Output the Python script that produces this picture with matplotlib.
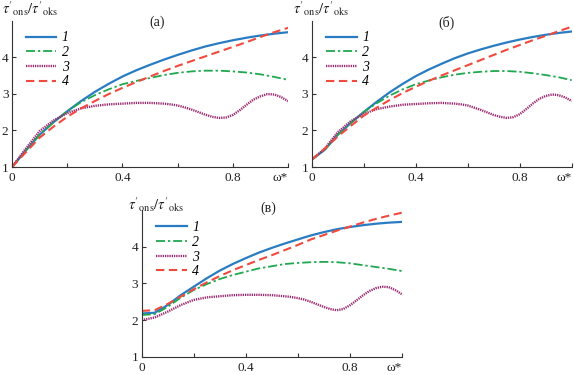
import matplotlib
matplotlib.use("Agg")
import matplotlib.pyplot as plt

plt.rcParams['font.family'] = ['Liberation Serif', 'DejaVu Serif']
plt.rcParams['mathtext.fontset'] = 'stix'

omega = [0.0, 0.05, 0.1, 0.15, 0.2, 0.25, 0.3, 0.35, 0.4, 0.45, 0.5,
         0.55, 0.6, 0.65, 0.7, 0.75, 0.8, 0.85, 0.9, 0.95, 1.0]
# denser sampling for the wavy curve 3
omega3 = [0.0, 0.05, 0.1, 0.15, 0.2, 0.25, 0.3, 0.35, 0.4, 0.45, 0.5,
          0.55, 0.575, 0.6, 0.625, 0.65, 0.675, 0.7, 0.725, 0.75, 0.775,
          0.8, 0.825, 0.85, 0.875, 0.9, 0.925, 0.95, 0.975, 1.0]

# panel (а)
a1 = [1.0, 1.45, 1.88, 2.22, 2.52, 2.8, 3.05, 3.27, 3.47, 3.64, 3.79, 3.93, 4.06, 4.18, 4.29, 4.38, 4.46, 4.53, 4.59, 4.64, 4.68]
a2 = [1.0, 1.45, 1.88, 2.22, 2.52, 2.77, 2.96, 3.12, 3.26, 3.35, 3.43, 3.51, 3.57, 3.61, 3.63, 3.63, 3.61, 3.58, 3.53, 3.46, 3.38]
a3 = [1.0, 1.5, 1.98, 2.27, 2.47, 2.6, 2.67, 2.71, 2.73, 2.75, 2.75,
      2.73, 2.71, 2.68, 2.63, 2.57, 2.5, 2.43, 2.37, 2.34, 2.35,
      2.42, 2.55, 2.7, 2.84, 2.93, 2.99, 2.98, 2.91, 2.8]
a4 = [1.0, 1.4, 1.8, 2.1, 2.37, 2.6, 2.8, 2.99, 3.16, 3.32, 3.47, 3.62, 3.76, 3.89, 4.02, 4.15, 4.28, 4.41, 4.55, 4.68, 4.8]

# panel (б)
b1 = [1.2, 1.47, 1.88, 2.2, 2.5, 2.78, 3.04, 3.27, 3.48, 3.66, 3.82, 3.97, 4.1, 4.21, 4.31, 4.4, 4.48, 4.55, 4.61, 4.66, 4.7]
b2 = [1.2, 1.47, 1.88, 2.2, 2.5, 2.74, 2.95, 3.12, 3.26, 3.36, 3.45, 3.52, 3.57, 3.6, 3.62, 3.62, 3.6, 3.56, 3.51, 3.45, 3.37]
b3 = [1.2, 1.5, 1.95, 2.25, 2.45, 2.58, 2.65, 2.7, 2.72, 2.74, 2.75,
      2.73, 2.71, 2.68, 2.62, 2.56, 2.49, 2.42, 2.37, 2.34, 2.36,
      2.44, 2.58, 2.73, 2.86, 2.94, 2.98, 2.96, 2.9, 2.8]
b4 = [1.2, 1.5, 1.83, 2.12, 2.4, 2.62, 2.83, 3.02, 3.19, 3.35, 3.5, 3.64, 3.78, 3.92, 4.06, 4.2, 4.33, 4.46, 4.58, 4.71, 4.83]

# panel (в)
c1 = [2.18, 2.2, 2.41, 2.68, 2.91, 3.14, 3.35, 3.53, 3.69, 3.84, 3.97, 4.09, 4.2, 4.31, 4.4, 4.48, 4.54, 4.59, 4.63, 4.66, 4.68]
c2 = [2.14, 2.16, 2.36, 2.61, 2.82, 2.98, 3.12, 3.23, 3.32, 3.41, 3.47, 3.53, 3.56, 3.58, 3.59, 3.58, 3.55, 3.5, 3.45, 3.4, 3.34]
c3 = [2.0, 2.07, 2.23, 2.41, 2.55, 2.62, 2.65, 2.68, 2.69, 2.69, 2.68,
      2.65, 2.63, 2.6, 2.56, 2.5, 2.43, 2.36, 2.3, 2.27, 2.3,
      2.4, 2.53, 2.67, 2.79, 2.87, 2.91, 2.9, 2.82, 2.71]
c4 = [2.25, 2.27, 2.44, 2.64, 2.84, 3.03, 3.2, 3.36, 3.5, 3.64, 3.77, 3.91, 4.05, 4.2, 4.32, 4.44, 4.55, 4.66, 4.76, 4.85, 4.93]

series_labels = ['1', '2', '3', '4']
panel_labels = ['(а)', '(б)', '(в)']
xtick_vals = [0.0, 0.2, 0.4, 0.6, 0.8, 1.0]
xtick_labels = ['0', '', '0.4', '', '0.8', 'ω*']
ytick_vals = [1, 2, 3, 4]
ylabel = r"$\tau'_{\rm ons}/\tau'_{\rm oks}$"

colors = ['#2a7cc2', '#1fa84f', '#9c2a70', '#f04a3e']
styles = ['-', (0, (5, 1.6, 1.3, 1.6)), (0, (0.55, 0.4)), (0, (4, 2.2))]
widths = [1.6, 1.3, 1.7, 1.5]

fig = plt.figure(figsize=(5.74, 3.75), dpi=100)

W, H = 574.0, 375.0
specs = [
    (a1, a2, a3, a4, [12 / W, 208 / H, 276 / W, 146.5 / H], 0.05, 0.525, 0.985, (1.7 / W, 366 / H)),
    (b1, b2, b3, b4, [311.7 / W, 208 / H, 260 / W, 146.5 / H], 0.055, 0.52, 0.985, (293 / W, 366 / H)),
    (c1, c2, c3, c4, [141.7 / W, 18.3 / H, 260 / W, 146.5 / H], 0.055, 0.486, 1.01, (128.3 / W, 170 / H)),
]

for i, (s1, s2, s3, s4, rect, legx, labx, laby, ylpos) in enumerate(specs):
    ax = fig.add_axes(rect)
    xs_list = [omega, omega, omega3, omega]
    for xs, ys, col, ls, lw, lab in zip(xs_list, [s1, s2, s3, s4], colors, styles, widths, series_labels):
        ax.plot(xs, ys, color=col, linestyle=ls, linewidth=lw, label=lab)
    ax.set_xlim(0, 1.0)
    ax.set_ylim(1, 5)
    ax.set_xticks(xtick_vals)
    ax.set_xticklabels(xtick_labels)
    ax.get_xticklabels()[-1].set_horizontalalignment('right')
    ax.set_yticks(ytick_vals)
    ax.set_yticklabels([str(v) for v in ytick_vals])
    for s in ['top', 'right']:
        ax.spines[s].set_visible(False)
    for s in ['left', 'bottom']:
        ax.spines[s].set_linewidth(0.8)
        ax.spines[s].set_color('#333333')
    ax.tick_params(direction='in', length=3, width=0.8, colors='#333333',
                   labelsize=9.5, labelcolor='#222222')
    ax.tick_params(axis='y', pad=2.5)
    ax.tick_params(axis='x', pad=3.5)
    leg = ax.legend(loc='upper left', bbox_to_anchor=(legx, 0.925), frameon=False,
                    handlelength=2.2, handletextpad=0.4, labelspacing=0.12,
                    borderpad=0, borderaxespad=0,
                    prop={'family': 'Liberation Serif', 'style': 'italic', 'size': 10})
    ax.text(labx, laby, panel_labels[i], transform=ax.transAxes, ha='center', va='center',
            fontsize=10, color='#222222')
    fig.text(ylpos[0], ylpos[1], ylabel, ha='left', va='center', fontsize=10.5, color='#222222')

fig.savefig('out.png', dpi=100)
